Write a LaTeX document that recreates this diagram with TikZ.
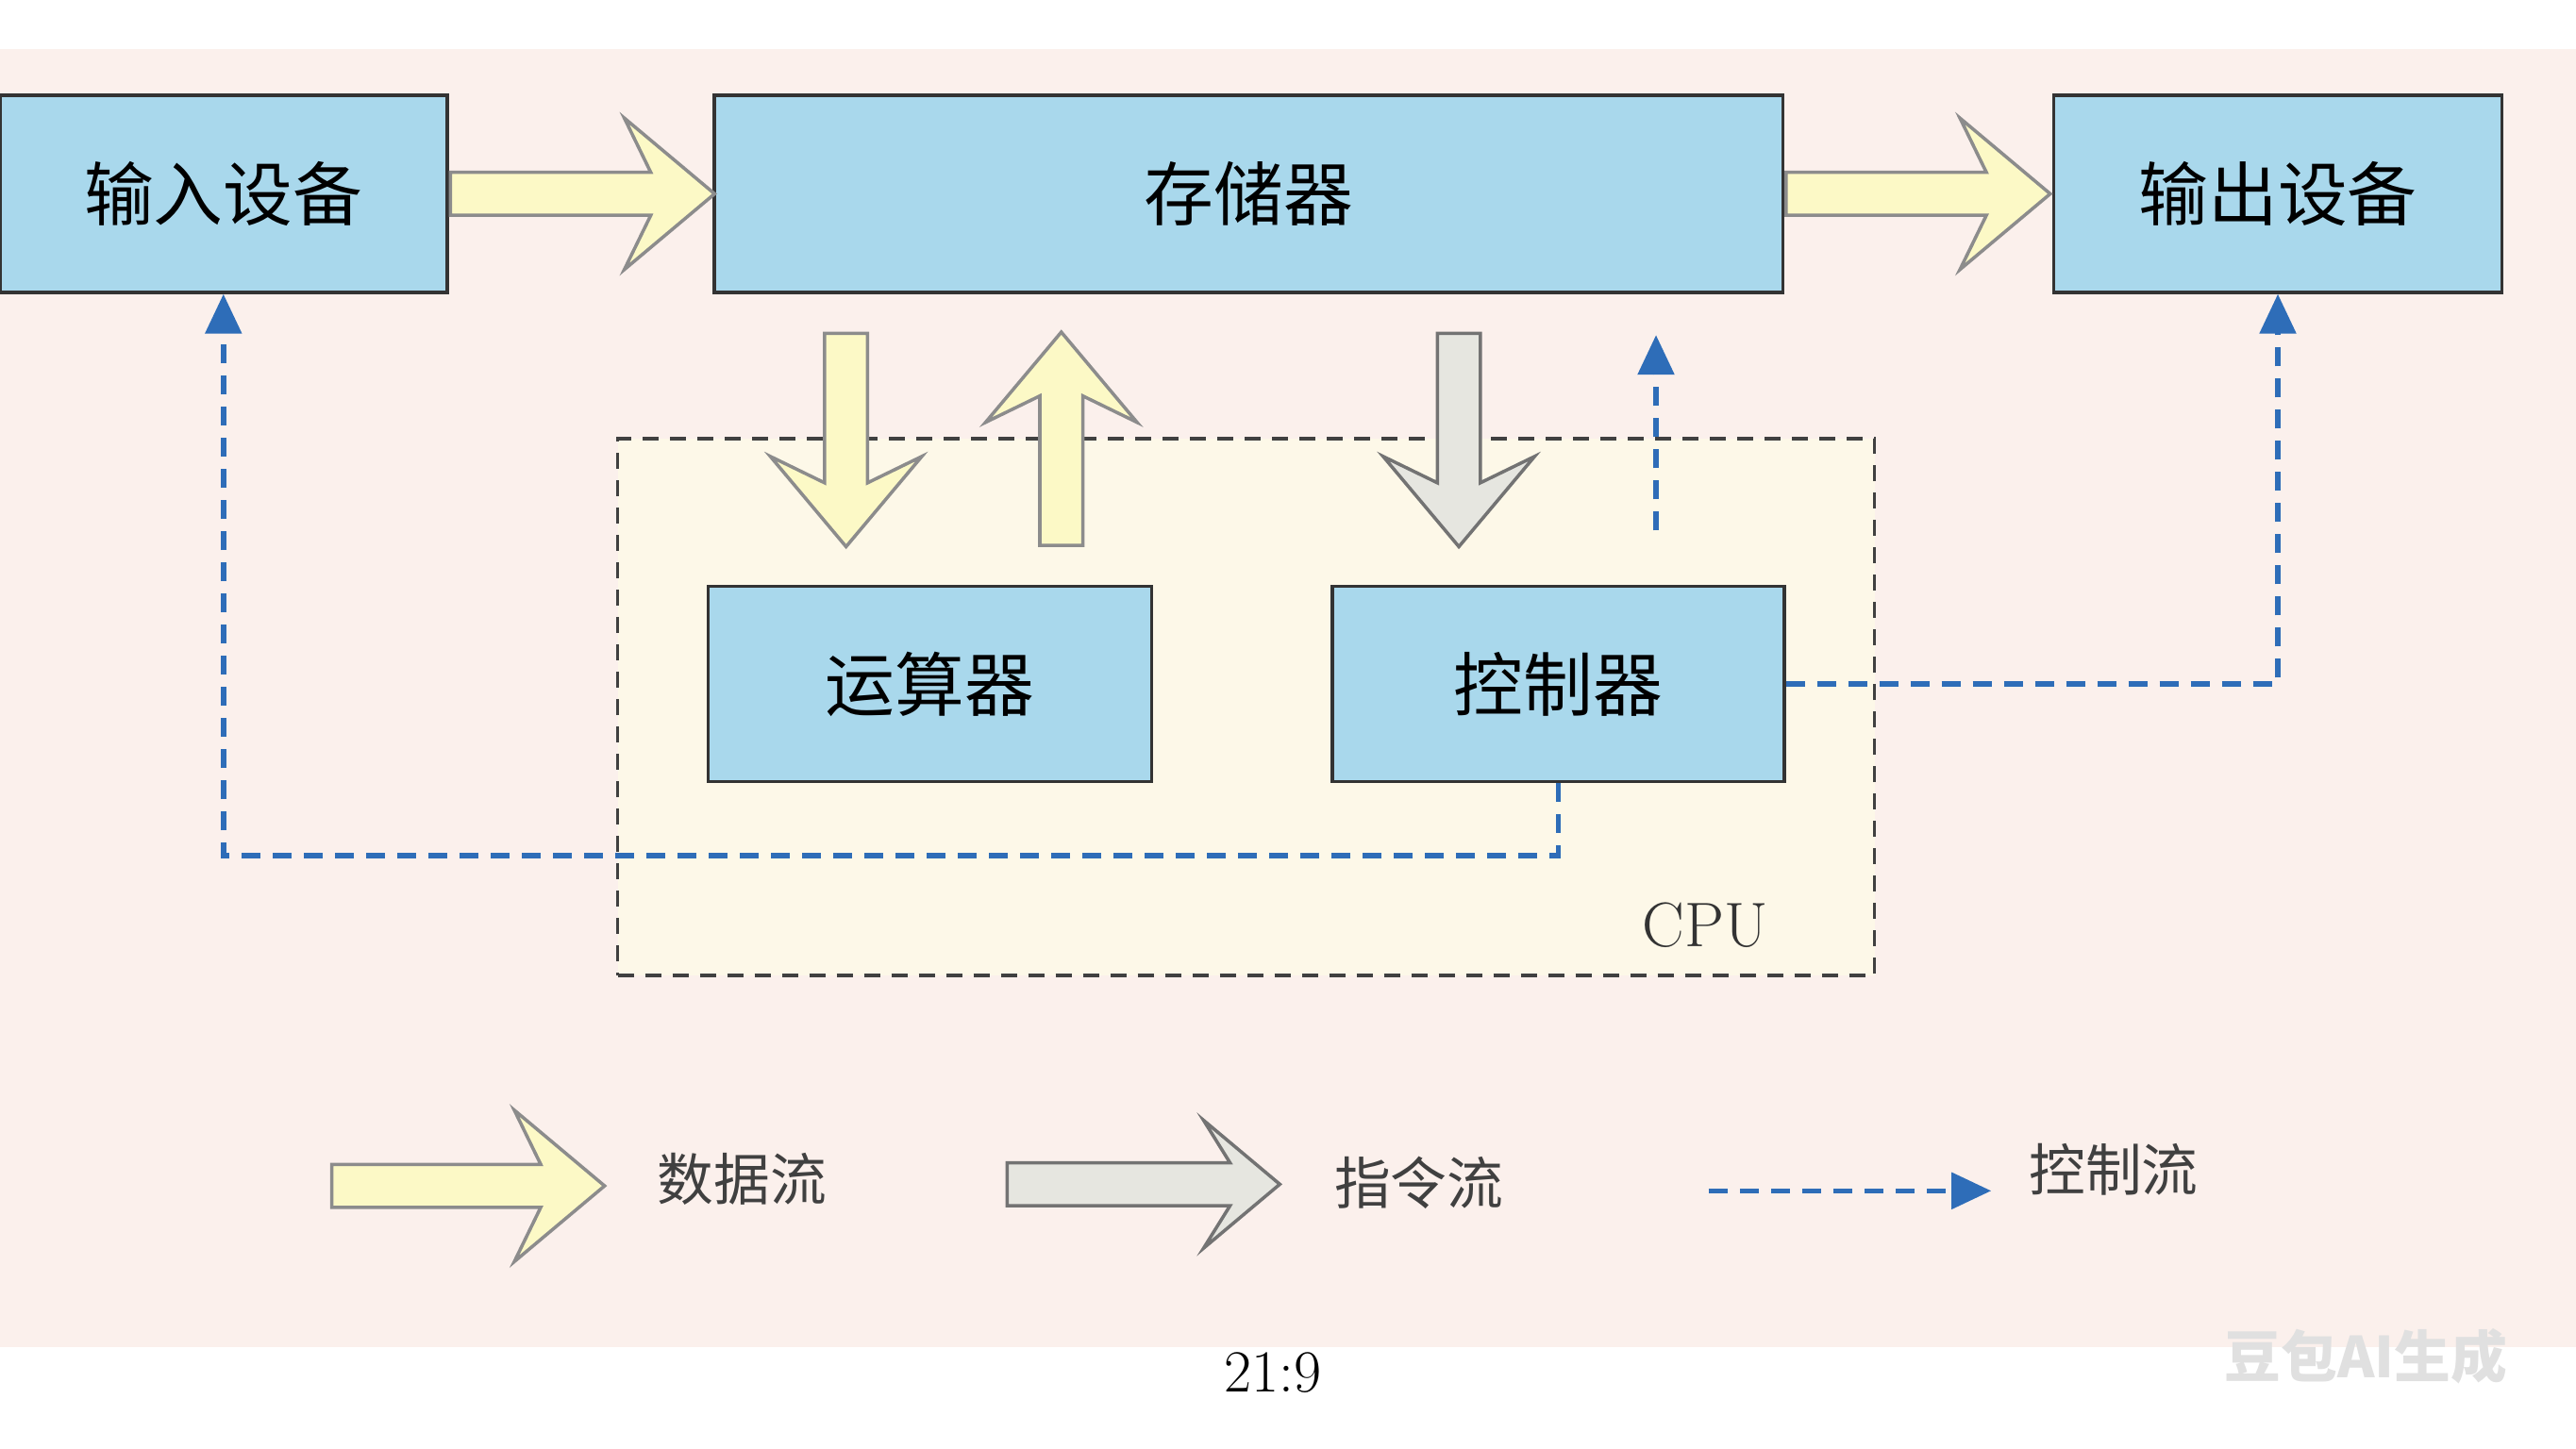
\documentclass[tikz,border=0pt]{standalone}
\usepackage{fontspec}
\newfontfamily\cjk{Noto Sans CJK SC}
\usetikzlibrary{shapes.arrows,arrows.meta}
\definecolor{boxblue}{HTML}{A9D8EC}
\definecolor{dataY}{HTML}{FCF9C6}
\definecolor{instG}{HTML}{E6E6E0}
\definecolor{ctrlB}{HTML}{2E6DB8}
\definecolor{bgpink}{HTML}{FBF0EC}
\definecolor{cpuY}{HTML}{FDF8E8}
\tikzset{
  unit/.style={draw=black!80, fill=boxblue, line width=1pt, inner sep=0pt,
    font=\cjk\fontsize{21}{21}\selectfont},
  bigarrow/.style={single arrow, inner xsep=0pt, inner ysep=0.21cm, line width=1pt,
    single arrow head extend=0.575cm, single arrow tip angle=80,
    single arrow head indent=0.28cm},
  vert/.style={inner xsep=0.21cm, inner ysep=0pt},
  data/.style={bigarrow, draw=black!45, fill=dataY},
  inst/.style={bigarrow, draw=black!55, fill=instG},
  ctrl/.style={draw=ctrlB, line width=1.6pt, dash pattern=on 0.2cm off 0.13cm,
    -{Triangle[width=0.38cm,length=0.42cm]}},
  legend/.style={font=\cjk\fontsize{17}{17}\selectfont, text=black!75},
}
\begin{document}
\begin{tikzpicture}[x=0.01741cm,y=-0.01741cm]
% background
\fill[white] (0,0) rectangle (1568,882);
\fill[bgpink] (0,30) rectangle (1568,820);
\useasboundingbox (0,0) rectangle (1568,882);
% CPU frame
\node[draw=black!75, fill=cpuY, line width=1pt, dash pattern=on 0.17cm off 0.12cm,
  minimum width=13.32cm, minimum height=5.69cm, inner sep=0pt] (cpu) at (758.5,430.5) {};
\node[font=\fontsize{19}{19}\selectfont, text=black!80] (cpulabel) at (1038,563) {CPU};
% units
\node[unit, minimum width=4.74cm, minimum height=2.09cm] (in) at (136,118) {输入设备};
\node[unit, minimum width=11.32cm, minimum height=2.09cm] (mem) at (760,118) {存储器};
\node[unit, minimum width=4.75cm, minimum height=2.09cm] (out) at (1386.5,118) {输出设备};
\node[unit, minimum width=4.70cm, minimum height=2.07cm] (alu) at (566,416.5) {运算器};
\node[unit, minimum width=4.79cm, minimum height=2.07cm] (ctl) at (948.5,416.5) {控制器};
% data and instruction arrows
\node[data, minimum height=2.80cm, anchor=tail] (a1) at (in.east |- 0,118) {};
\node[data, minimum height=2.80cm, anchor=tail] (a2) at (mem.east |- 0,118) {};
\node[data, vert, minimum height=2.26cm, shape border rotate=270, anchor=tail] (a3) at (515,202) {};
\node[data, vert, minimum height=2.26cm, shape border rotate=90, anchor=tail] (a4) at (646,333) {};
\node[inst, vert, minimum height=2.26cm, shape border rotate=270, anchor=tail] (a5) at (888,202) {};
% control lines
\coordinate (c0) at (1008,323);
\coordinate (c1) at (1008,204);
\draw[ctrl] (c0) -- (c1);
\draw[ctrl] (ctl.south) -- ++(0,44) -| (in.south);
\draw[ctrl] (ctl.east) -| (out.south);
% legend
\node[data, minimum height=2.89cm, anchor=tail] (l1) at (201,722) {};
\node[legend, anchor=west] (t1) at (393,718) {数据流};
\node[inst, minimum height=2.89cm, single arrow head extend=0.45cm, anchor=tail] (l2) at (612,721) {};
\node[legend, anchor=west] (t2) at (805,720) {指令流};
\coordinate (l3a) at (1040,725);
\coordinate (l3b) at (1212,725);
\draw[ctrl] (l3a) -- (l3b);
\node[legend, anchor=west] (t3) at (1228,712) {控制流};
% footer
\node[font=\fontsize{18}{18}\selectfont] (ratio) at (775,836) {21:9};
\node[font=\cjk\bfseries\fontsize{17}{17}\selectfont, text=black!12] (mark) at (1440,826) {豆包AI生成};
\end{tikzpicture}
\end{document}
